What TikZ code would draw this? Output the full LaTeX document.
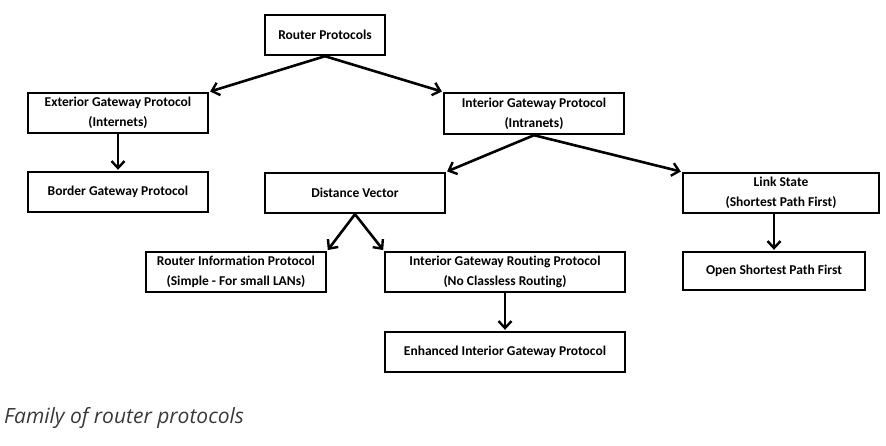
\documentclass[tikz,border=0pt]{standalone}
\usepackage{fontspec}
\setmainfont[Ligatures=NoCommon]{Carlito}
\newfontfamily\capfont{Open Sans}
\usetikzlibrary{arrows.meta}
\definecolor{capgray}{HTML}{3A3A3A}
\tikzset{
  box/.style={draw=black, line width=2.4pt, fill=white, inner sep=1pt,
    font=\bfseries\fontsize{13.5}{20}\selectfont, align=center,
    minimum height=40pt},
  conn/.style={line width=2.6pt, -{Straight Barb[length=7pt,width=13pt,line width=2.4pt]}, shorten >=1pt}
}
\begin{document}
\begin{tikzpicture}[x=1pt,y=-1pt]
\useasboundingbox (0,0) rectangle (886,445);
\node[box, minimum width=120pt] (root) at (325,35) {Router Protocols};
\node[box, minimum width=180pt] (ext) at (118,113) {Exterior Gateway Protocol\\(Internets)};
\node[box, minimum width=180pt, minimum height=41pt] (int) at (534,113.5) {Interior Gateway Protocol\\(Intranets)};
\node[box, minimum width=180pt] (bgp) at (118,192) {Border Gateway Protocol};
\node[box, minimum width=180pt] (dv) at (355,193) {Distance Vector};
\node[box, minimum width=196pt] (ls) at (781,193) {Link State\\(Shortest Path First)};
\node[box, minimum width=182pt, minimum height=38pt] (ospf) at (774,271) {Open Shortest Path First};
\node[box, minimum width=180pt] (rip) at (236,272) {Router Information Protocol\\(Simple - For small LANs)};
\node[box, minimum width=240pt] (igrp) at (505,272) {Interior Gateway Routing Protocol\\(No Classless Routing)};
\node[box, minimum width=240pt] (eigrp) at (505,352) {Enhanced Interior Gateway Protocol};
\node[anchor=west, inner sep=0pt, text=capgray, font=\capfont\itshape\fontsize{21}{24}\selectfont] (cap) at (4,418) {Family of router protocols};
\draw[conn] (root.south) -- (ext.north east);
\draw[conn] (root.south) -- (int.north west);
\draw[conn] (ext.south) -- (bgp.north);
\draw[conn] (int.south) -- (dv.north east);
\draw[conn] (int.south) -- (ls.north west);
\draw[conn] (ls.south -| ospf.north) -- (ospf.north);
\draw[conn] (dv.south) -- (rip.north east);
\draw[conn] (dv.south) -- (igrp.north west);
\draw[conn] (igrp.south) -- (eigrp.north);
\end{tikzpicture}
\end{document}
